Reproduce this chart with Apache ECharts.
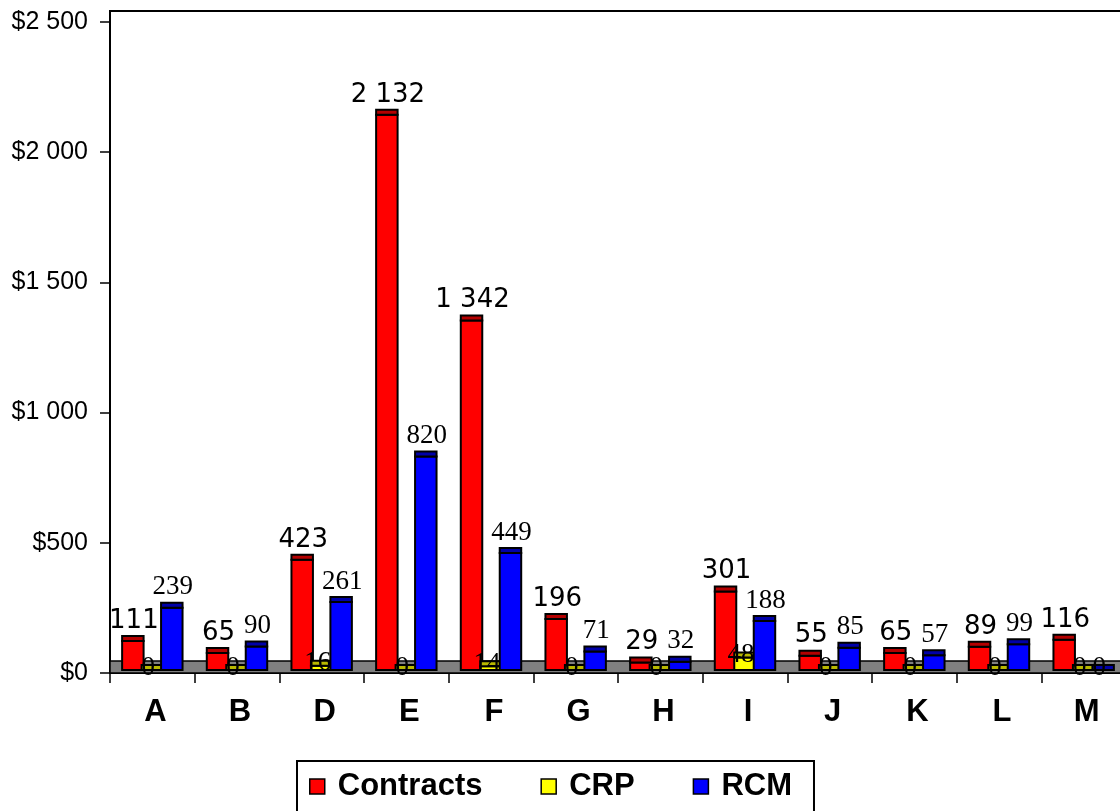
<!DOCTYPE html>
<html>
<head>
<meta charset="utf-8">
<script src="https://cdn.jsdelivr.net/npm/echarts@6/dist/echarts.min.js"></script>
<style>
  html, body { margin: 0; padding: 0; background: #ffffff; }
  #chart { width: 1120px; height: 811px; }
</style>
</head>
<body>
<div id="chart"></div>
<script>
// Spending by unit, in thousands of dollars
const categories = ['A', 'B', 'D', 'E', 'F', 'G', 'H', 'I', 'J', 'K', 'L', 'M'];
const contracts  = [111, 65, 423, 2132, 1342, 196, 29, 301, 55, 65, 89, 116];
const crp        = [0, 0, 16, 0, 14, 0, 0, 48, 0, 0, 0, 0];
const rcm        = [239, 90, 261, 820, 449, 71, 32, 188, 85, 57, 99, 0];
const yTicks     = [0, 500, 1000, 1500, 2000, 2500];
const yMax       = 2542;

function money(v) {
  if (v >= 1000) {
    const t = Math.floor(v / 1000);
    const r = String(v % 1000).padStart(3, '0');
    return '$' + t + ' ' + r;
  }
  return '$' + v;
}

// Front face + darker top cap, giving the bars a shallow 3-D look
function barRenderer(slot, face, cap, lowLabel, font) {
  return function (params, api) {
    const idx = api.value(0);
    const val = api.value(1);
    const band = api.size([1, 0])[0];
    const step = band * 0.23;
    const base = api.coord([idx, 0]);
    const top = api.coord([idx, val]);
    const cx = base[0] + slot * step;
    const lift = 3, capH = 5, w = step + 2;
    const bottomY = base[1] - lift;
    const frontTop = top[1] - lift;
    const capTop = frontTop - capH;
    const children = [];
    if (val > 0) {
      children.push({
        type: 'rect',
        shape: { x: cx - w / 2, y: frontTop, width: w, height: bottomY - frontTop },
        style: { fill: face, stroke: '#000', lineWidth: 2 }
      });
    }
    children.push({
      type: 'rect',
      shape: { x: cx - w / 2, y: capTop, width: w, height: capH },
      style: { fill: cap, stroke: '#000', lineWidth: 2 }
    });
    const low = lowLabel || val === 0;
    children.push({
      type: 'text',
      style: {
        text: val >= 1000 ? money(val).slice(1) : String(val),
        x: cx + (low ? -4 : 1),
        y: low ? capTop + 16 : capTop - 2,
        align: 'center',
        verticalAlign: 'bottom',
        font: font,
        fill: '#000'
      }
    });
    return { type: 'group', children: children };
  };
}

const chart = echarts.init(document.getElementById('chart'), null, { renderer: 'canvas' });

chart.setOption({
  animation: false,
  backgroundColor: '#ffffff',
  grid: {
    left: 110, top: 11, width: 1016, height: 662,
    outerBoundsMode: 'none',
    containLabel: false,
    show: true, borderColor: '#000', borderWidth: 2, backgroundColor: 'transparent'
  },
  legend: {
    data: [
      { name: 'Contracts', itemStyle: { color: '#ff0000', borderColor: '#000', borderWidth: 1.5 } },
      { name: 'CRP', itemStyle: { color: '#ffff00', borderColor: '#000', borderWidth: 1.5 } },
      { name: 'RCM', itemStyle: { color: '#0000ff', borderColor: '#000', borderWidth: 1.5 } }
    ],
    icon: 'rect',
    left: 297, top: 761,
    itemWidth: 15, itemHeight: 15,
    itemGap: 58,
    padding: [10, 22, 30, 12],
    borderColor: '#000', borderWidth: 2,
    selectedMode: false,
    textStyle: {
      fontFamily: 'Liberation Sans', fontWeight: 'bold', fontSize: 31, color: '#000',
      padding: [0, 0, 0, 8]
    }
  },
  xAxis: {
    type: 'category',
    data: categories,
    axisLine: { lineStyle: { color: '#000', width: 2 } },
    axisTick: { show: true, length: 10, lineStyle: { color: '#000', width: 1.5 } },
    axisLabel: {
      margin: 24,
      padding: [0, 0, 0, 6],
      fontFamily: 'Liberation Sans', fontWeight: 'bold', fontSize: 31, color: '#000'
    },
    splitLine: { show: false }
  },
  yAxis: {
    type: 'value',
    min: 0, max: yMax,
    axisLine: { show: true, lineStyle: { color: '#000', width: 2 } },
    axisTick: { show: true, length: 10, customValues: yTicks, lineStyle: { color: '#000', width: 1.5 } },
    axisLabel: {
      customValues: yTicks,
      formatter: money,
      margin: 22,
      fontFamily: 'Liberation Sans', fontSize: 25, color: '#000'
    },
    splitLine: { show: false }
  },
  series: [
    {
      name: 'floor',
      type: 'custom',
      silent: true,
      data: [[0, 0]],
      renderItem: function (params, api) {
        const cs = params.coordSys;
        const y0 = api.coord([0, 0])[1];
        return {
          type: 'rect',
          shape: { x: cs.x, y: y0 - 12, width: cs.width, height: 12 },
          style: { fill: '#808080', stroke: '#000', lineWidth: 1.5 }
        };
      }
    },
    {
      name: 'Contracts',
      type: 'custom',
      itemStyle: { color: '#ff0000' },
      data: contracts.map((v, i) => [i, v]),
      renderItem: barRenderer(-1, '#ff0000', '#b40000', false, '26px "DejaVu Sans"')
    },
    {
      name: 'CRP',
      type: 'custom',
      itemStyle: { color: '#ffff00' },
      data: crp.map((v, i) => [i, v]),
      renderItem: barRenderer(0, '#ffff00', '#b8b800', true, '27px "Liberation Serif"')
    },
    {
      name: 'RCM',
      type: 'custom',
      itemStyle: { color: '#0000ff' },
      data: rcm.map((v, i) => [i, v]),
      renderItem: barRenderer(1, '#0000ff', '#0000a8', false, '27px "Liberation Serif"')
    }
  ]
});
</script>
</body>
</html>
